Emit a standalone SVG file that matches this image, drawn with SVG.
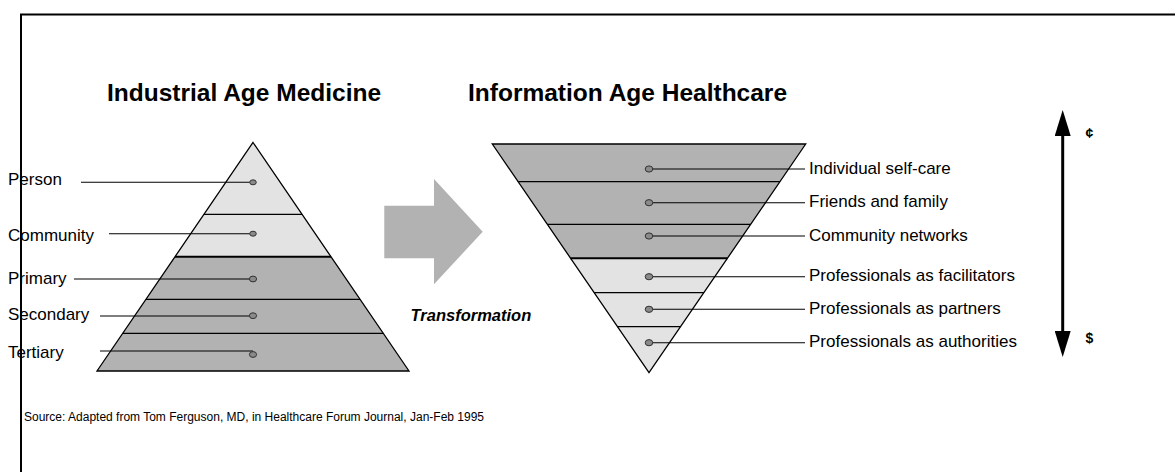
<svg xmlns="http://www.w3.org/2000/svg" width="1175" height="472" viewBox="0 0 1175 472">
<style>
text{font-family:"Liberation Sans",Arial,sans-serif;fill:#000}
.title{font-size:24.5px;font-weight:bold}
.lbl{font-size:17px}
.src{font-size:12px}
.light{fill:#e3e3e3;stroke:none}
.dark{fill:#b2b2b2;stroke:none}
.outline{fill:none;stroke:#000;stroke-width:1.3;stroke-linejoin:miter}
.band{stroke:#000;stroke-width:1.2}
.thick{stroke:#000;stroke-width:2}
.lead{stroke:#000;stroke-width:1.1}
.dot{fill:#8a8a8a;stroke:#333;stroke-width:1}
</style>
<defs>
<marker id="head" viewBox="0 0 26 16" refX="2" refY="8" markerWidth="26" markerHeight="16" markerUnits="userSpaceOnUse" orient="auto-start-reverse">
<path d="M0,0 L26,8 L0,16 z" fill="#000"/>
</marker>
</defs>
<rect x="21" y="14.5" width="1200" height="500" fill="none" stroke="#000" stroke-width="2"/>
<text class="title" x="107" y="100.7">Industrial Age Medicine</text>
<text class="title" x="468" y="100.7">Information Age Healthcare</text>
<g id="industrial-pyramid">
<polygon class="light" points="253,142.5 331,256.7 175,256.7"/>
<polygon class="dark" points="175,256.7 331,256.7 409,371 97,371"/>
<line class="band" x1="204" y1="214.3" x2="302" y2="214.3"/>
<line class="thick" x1="175" y1="256.7" x2="331" y2="256.7"/>
<line class="band" x1="146" y1="299.3" x2="360" y2="299.3"/>
<line class="band" x1="122.7" y1="333.3" x2="383.3" y2="333.3"/>
<polygon class="outline" points="253,142.5 409,371 97,371"/>
</g>
<g id="information-pyramid">
<polygon class="dark" points="492.3,144 805.7,144 727.4,258.3 570.6,258.3"/>
<polygon class="light" points="570.6,258.3 727.4,258.3 649,372.7"/>
<line class="band" x1="518.1" y1="181.7" x2="779.9" y2="181.7"/>
<line class="band" x1="547.3" y1="224.3" x2="750.7" y2="224.3"/>
<line class="thick" x1="570.6" y1="258.3" x2="727.4" y2="258.3"/>
<line class="band" x1="594.2" y1="292.7" x2="703.8" y2="292.7"/>
<line class="band" x1="617.5" y1="326.7" x2="680.5" y2="326.7"/>
<polygon class="outline" points="492.3,144 805.7,144 649,372.7"/>
</g>
<g id="transformation">
<polygon fill="#b2b2b2" points="384.3,205.7 434,205.7 434,179 482.7,231.7 434,284.3 434,258.3 384.3,258.3"/>
<text x="410.5" y="320.7" style="font-size:16.5px;font-weight:bold;font-style:italic">Transformation</text>
</g>
<g id="connectors">
<line class="lead" x1="81" y1="182.3" x2="253" y2="182.3"/>
<line class="lead" x1="109" y1="233.7" x2="253" y2="233.7"/>
<line class="lead" x1="74" y1="279" x2="253" y2="279"/>
<line class="lead" x1="100" y1="316" x2="253" y2="316"/>
<line class="lead" x1="100" y1="351" x2="253" y2="351"/>
<line class="lead" x1="649" y1="169" x2="805" y2="169"/>
<line class="lead" x1="649" y1="202.7" x2="805" y2="202.7"/>
<line class="lead" x1="649" y1="236" x2="805" y2="236"/>
<line class="lead" x1="649" y1="276.7" x2="805" y2="276.7"/>
<line class="lead" x1="649" y1="309.3" x2="805" y2="309.3"/>
<line class="lead" x1="649" y1="342.7" x2="805" y2="342.7"/>
<line x1="1062.7" y1="134" x2="1062.7" y2="333" stroke="#000" stroke-width="3" marker-start="url(#head)" marker-end="url(#head)"/>
</g>
<g id="industrial-levels">
<ellipse class="dot" cx="253" cy="182.3" rx="3.3" ry="2.5"/>
<ellipse class="dot" cx="253" cy="233.7" rx="3.3" ry="2.5"/>
<ellipse class="dot" cx="253" cy="279" rx="3.6" ry="2.9"/>
<ellipse class="dot" cx="253" cy="315.7" rx="3.6" ry="2.9"/>
<ellipse class="dot" cx="253" cy="354.5" rx="3.6" ry="2.9"/>
<text class="lbl" x="8" y="185">Person</text>
<text class="lbl" x="8" y="240.7">Community</text>
<text class="lbl" x="8" y="284">Primary</text>
<text class="lbl" x="8" y="320">Secondary</text>
<text class="lbl" x="8" y="357.7">Tertiary</text>
</g>
<g id="information-levels">
<ellipse class="dot" cx="649" cy="169" rx="3.8" ry="3.1"/>
<ellipse class="dot" cx="649" cy="202.7" rx="3.8" ry="3.1"/>
<ellipse class="dot" cx="649" cy="236" rx="3.8" ry="3.1"/>
<ellipse class="dot" cx="649" cy="276.7" rx="3.8" ry="3.1"/>
<ellipse class="dot" cx="649" cy="309.3" rx="3.8" ry="3.1"/>
<ellipse class="dot" cx="649" cy="342.7" rx="3.8" ry="3.1"/>
<text class="lbl" x="809" y="173.5">Individual self-care</text>
<text class="lbl" x="809" y="207.2">Friends and family</text>
<text class="lbl" x="809" y="240.5">Community networks</text>
<text class="lbl" x="809" y="281.2">Professionals as facilitators</text>
<text class="lbl" x="809" y="313.8">Professionals as partners</text>
<text class="lbl" x="809" y="347.2">Professionals as authorities</text>
</g>
<g id="cost-scale">
<text x="1085.5" y="137.5" style="font-size:14px;font-weight:bold">¢</text>
<text x="1085.5" y="343" style="font-size:14px;font-weight:bold">$</text>
</g>
<text class="src" x="24" y="421">Source: Adapted from Tom Ferguson, MD, in Healthcare Forum Journal, Jan-Feb 1995</text>
</svg>
